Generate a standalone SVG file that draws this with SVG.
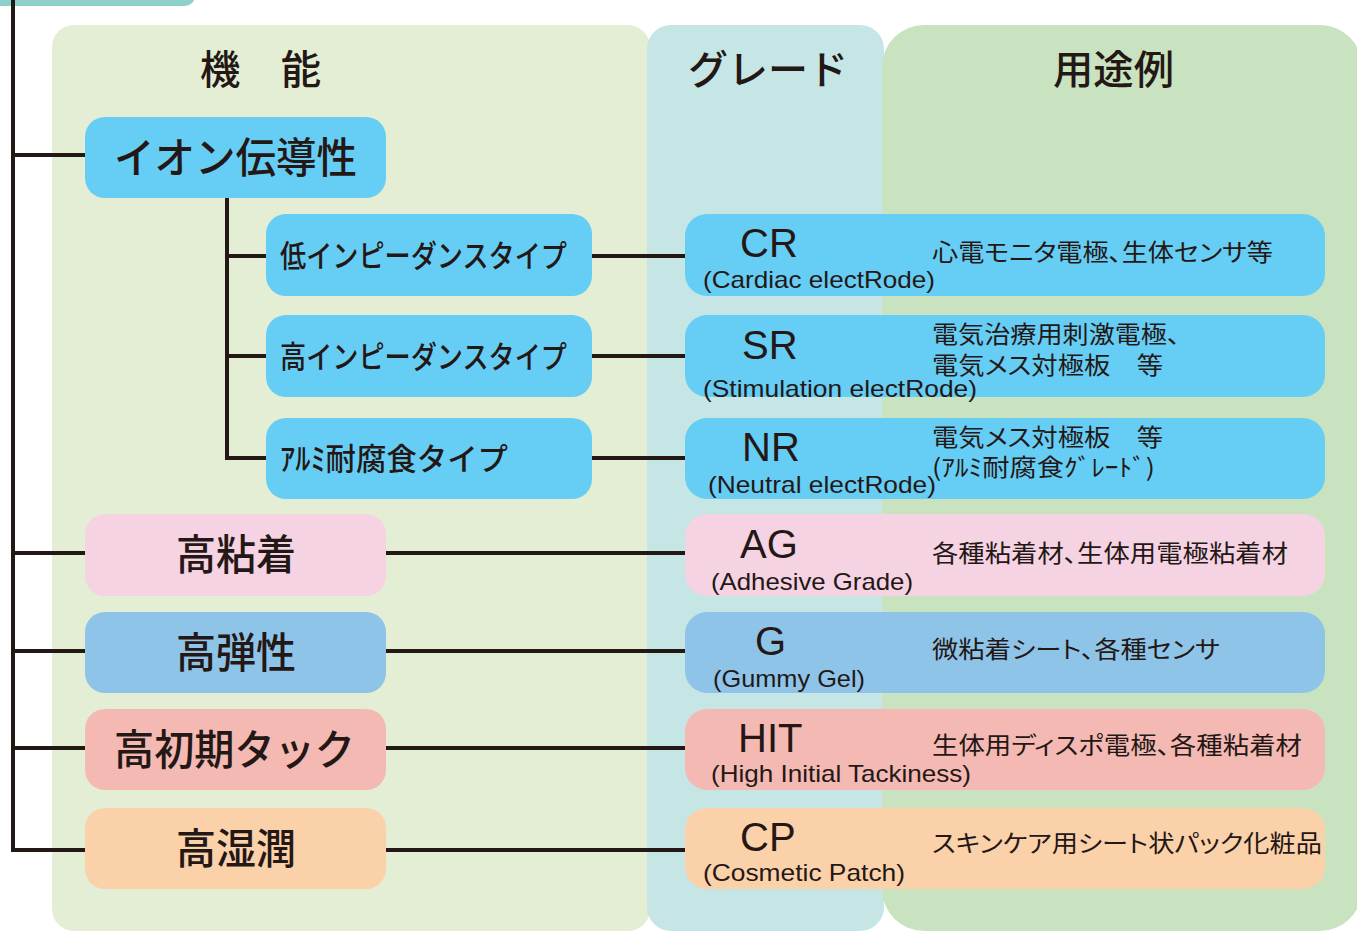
<svg xmlns="http://www.w3.org/2000/svg" width="1357" height="931" viewBox="0 0 1357 931">
<style>
.jp{font-family:"Noto Sans CJK JP","Noto Sans CJK SC",sans-serif;fill:#231815}
.hd{font-size:40px;font-weight:500}
.fn{font-size:42px;font-weight:500}
.sub{font-size:31px;font-weight:500}
.use{font-size:24px;font-feature-settings:"palt"}
.code{font-family:"Liberation Sans",Arial,sans-serif;font-size:40px;fill:#231815}
.en{font-family:"Liberation Sans",Arial,sans-serif;font-size:24px;fill:#231815}
.ln{fill:none;stroke:#231815;stroke-width:4}
.blue{fill:#66CDF5}
.pink{fill:#F6D3E3}
.sky{fill:#8FC4E9}
.salmon{fill:#F4B9B3}
.peach{fill:#FBD1AA}
</style>
<rect width="1357" height="931" fill="#FFFFFF"/>
<g id="panels">
<rect x="-20" y="-20" width="215" height="26" rx="10" fill="#8ED0CA"/>
<rect x="52" y="25" width="598" height="906" rx="22" fill="#E3EED4"/>
<rect x="647" y="25" width="237" height="906" rx="24" fill="#C5E6E5"/>
<rect x="882" y="25" width="480" height="906" rx="42" fill="#C9E2C0"/>
<text class="jp hd" x="200" y="84" textLength="121" lengthAdjust="spacingAndGlyphs">機　能</text>
<text class="jp hd" x="688" y="84" textLength="160" lengthAdjust="spacingAndGlyphs">グレード</text>
<text class="jp hd" x="1053" y="84" textLength="121" lengthAdjust="spacingAndGlyphs">用途例</text>
</g>
<g id="connectors">
<path class="ln" d="M13,0 V850 H85"/>
<path class="ln" d="M13,155 H85"/>
<path class="ln" d="M13,553 H85"/>
<path class="ln" d="M13,651 H85"/>
<path class="ln" d="M13,748 H85"/>
<path class="ln" d="M227,198 V458 H266"/>
<path class="ln" d="M227,256 H266"/>
<path class="ln" d="M227,356 H266"/>
<path class="ln" d="M592,256 H685"/>
<path class="ln" d="M592,356 H685"/>
<path class="ln" d="M592,458 H685"/>
<path class="ln" d="M386,553 H685"/>
<path class="ln" d="M386,651 H685"/>
<path class="ln" d="M386,748 H685"/>
<path class="ln" d="M386,850 H685"/>
</g>
<g id="f-ion">
<rect class="blue" x="85" y="117" width="301" height="81" rx="20"/>
<text class="jp fn" x="114" y="173" textLength="243" lengthAdjust="spacingAndGlyphs">イオン伝導性</text>
</g>
<g id="f-low">
<rect class="blue" x="266" y="214" width="326" height="82" rx="20"/>
<text class="jp sub" x="280" y="267" textLength="287" lengthAdjust="spacingAndGlyphs">低インピーダンスタイプ</text>
</g>
<g id="f-high">
<rect class="blue" x="266" y="315" width="326" height="82" rx="20"/>
<text class="jp sub" x="280" y="368" textLength="287" lengthAdjust="spacingAndGlyphs">高インピーダンスタイプ</text>
</g>
<g id="f-alu">
<rect class="blue" x="266" y="418" width="326" height="81" rx="20"/>
<text class="jp sub" x="280" y="470" textLength="228" lengthAdjust="spacingAndGlyphs">ｱﾙﾐ耐腐食タイプ</text>
</g>
<g id="f-adh">
<rect class="pink" x="85" y="514" width="301" height="82" rx="20"/>
<text class="jp fn" x="176" y="570" textLength="120" lengthAdjust="spacingAndGlyphs">高粘着</text>
</g>
<g id="f-ela">
<rect class="sky" x="85" y="612" width="301" height="81" rx="20"/>
<text class="jp fn" x="176" y="668" textLength="120" lengthAdjust="spacingAndGlyphs">高弾性</text>
</g>
<g id="f-tack">
<rect class="salmon" x="85" y="709" width="301" height="81" rx="20"/>
<text class="jp fn" x="114" y="765" textLength="241" lengthAdjust="spacingAndGlyphs">高初期タック</text>
</g>
<g id="f-wet">
<rect class="peach" x="85" y="808" width="301" height="81" rx="20"/>
<text class="jp fn" x="176" y="864" textLength="120" lengthAdjust="spacingAndGlyphs">高湿潤</text>
</g>
<g id="g-cr">
<rect class="blue" x="685" y="214" width="640" height="82" rx="22"/>
<text class="code" x="740" y="257">CR</text>
<text class="en" x="703" y="288" textLength="232" lengthAdjust="spacingAndGlyphs">(Cardiac electRode)</text>
<text class="jp use" x="932" y="261" textLength="341" lengthAdjust="spacingAndGlyphs">心電モニタ電極、生体センサ等</text>
</g>
<g id="g-sr">
<rect class="blue" x="685" y="315" width="640" height="82" rx="22"/>
<text class="code" x="742" y="359">SR</text>
<text class="en" x="703" y="397" textLength="274" lengthAdjust="spacingAndGlyphs">(Stimulation electRode)</text>
<text class="jp use" x="932" y="343" textLength="248" lengthAdjust="spacingAndGlyphs">電気治療用刺激電極、</text>
<text class="jp use" x="932" y="374" textLength="231" lengthAdjust="spacingAndGlyphs">電気メス対極板　等</text>
</g>
<g id="g-nr">
<rect class="blue" x="685" y="418" width="640" height="81" rx="22"/>
<text class="code" x="742" y="461">NR</text>
<text class="en" x="708" y="493" textLength="228" lengthAdjust="spacingAndGlyphs">(Neutral electRode)</text>
<text class="jp use" x="932" y="446" textLength="231" lengthAdjust="spacingAndGlyphs">電気メス対極板　等</text>
<text class="jp use" x="932" y="476" textLength="223" lengthAdjust="spacingAndGlyphs">(ｱﾙﾐ耐腐食ｸﾞﾚｰﾄﾞ)</text>
</g>
<g id="g-ag">
<rect class="pink" x="685" y="514" width="640" height="82" rx="22"/>
<text class="code" x="740" y="558">AG</text>
<text class="en" x="711" y="590" textLength="202" lengthAdjust="spacingAndGlyphs">(Adhesive Grade)</text>
<text class="jp use" x="932" y="562" textLength="356" lengthAdjust="spacingAndGlyphs">各種粘着材、生体用電極粘着材</text>
</g>
<g id="g-g">
<rect class="sky" x="685" y="612" width="640" height="81" rx="22"/>
<text class="code" x="755" y="655">G</text>
<text class="en" x="713" y="687" textLength="152" lengthAdjust="spacingAndGlyphs">(Gummy Gel)</text>
<text class="jp use" x="932" y="658" textLength="288" lengthAdjust="spacingAndGlyphs">微粘着シート、各種センサ</text>
</g>
<g id="g-hit">
<rect class="salmon" x="685" y="709" width="640" height="81" rx="22"/>
<text class="code" x="738" y="752">HIT</text>
<text class="en" x="711" y="782" textLength="260" lengthAdjust="spacingAndGlyphs">(High Initial Tackiness)</text>
<text class="jp use" x="932" y="754" textLength="370" lengthAdjust="spacingAndGlyphs">生体用ディスポ電極、各種粘着材</text>
</g>
<g id="g-cp">
<rect class="peach" x="685" y="808" width="640" height="81" rx="22"/>
<text class="code" x="740" y="851">CP</text>
<text class="en" x="703" y="881" textLength="202" lengthAdjust="spacingAndGlyphs">(Cosmetic Patch)</text>
<text class="jp use" x="932" y="852" textLength="390" lengthAdjust="spacingAndGlyphs">スキンケア用シート状パック化粧品</text>
</g>
</svg>
